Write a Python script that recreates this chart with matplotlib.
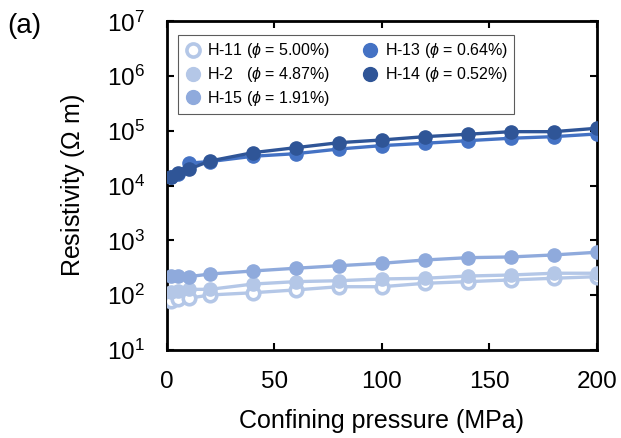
import matplotlib
matplotlib.use("Agg")
import matplotlib.pyplot as plt
from matplotlib.ticker import LogLocator, LogFormatterMathtext, FixedLocator

plt.rcParams['font.family'] = ['Liberation Sans', 'DejaVu Sans']
plt.rcParams['mathtext.fontset'] = 'custom'
plt.rcParams['mathtext.rm'] = 'Liberation Sans'
plt.rcParams['mathtext.it'] = 'Liberation Sans:italic'

pressure = [2, 5, 10, 20, 40, 60, 80, 100, 120, 140, 160, 180, 200]
h11 = [80, 84, 88, 101, 111, 125, 143, 143, 165, 177, 190, 204, 218]
h2 = [116, 120, 128, 128, 160, 177, 184, 198, 204, 224, 234, 252, 252]
h15 = [225, 225, 218, 244, 277, 311, 346, 383, 440, 485, 500, 544, 609]
h13 = [14600, 16500, 25900, 27600, 34500, 38500, 46800, 54000, 59600, 66500, 73600, 78700, 88100]
h14 = [14600, 16900, 19950, 28300, 40200, 49600, 61100, 68500, 78700, 87100, 97100, 97100, 112000]

labels = ["H-11 ($\\phi$ = 5.00%)", "H-2   ($\\phi$ = 4.87%)", "H-15 ($\\phi$ = 1.91%)",
          "H-13 ($\\phi$ = 0.64%)", "H-14 ($\\phi$ = 0.52%)"]
colors = ["#b4c7e7", "#b4c7e7", "#8faadc", "#4472c4", "#2f5597"]

fig = plt.figure(figsize=(6.21, 4.38), dpi=100)
ax = fig.add_axes([0.269, 0.201, 0.692, 0.750])

series = [h11, h2, h15, h13, h14]
for i, (vals, lab, col) in enumerate(zip(series, labels, colors)):
    if i == 0:
        ax.plot(pressure, vals, '-o', color=col, lw=2.4, ms=9, mfc='white',
                mec=col, mew=2.6, label=lab, zorder=3)
    else:
        ax.plot(pressure, vals, '-o', color=col, lw=2.4, ms=9.5, label=lab,
                zorder=3 + i)

ax.set_yscale('log')
ax.set_xlim(0, 200)
ax.set_ylim(10, 1e7)
ax.xaxis.set_major_locator(FixedLocator([0, 50, 100, 150, 200]))
ax.yaxis.set_major_locator(LogLocator(base=10, numticks=10))
ax.yaxis.set_minor_locator(FixedLocator([]))
ax.yaxis.set_major_formatter(LogFormatterMathtext())
ax.tick_params(direction='in', length=5, width=1.5, top=True, right=True,
               labelsize=17.5)
ax.tick_params(axis='x', pad=15)
ax.tick_params(axis='y', pad=16)
for s in ax.spines.values():
    s.set_linewidth(2)

ax.set_xlabel("Confining pressure (MPa)", fontsize=18, labelpad=12)
ax.set_ylabel("Resistivity ($\\Omega$ m)", fontsize=18, labelpad=14)

leg = ax.legend(ncol=2, loc='upper left', bbox_to_anchor=(0.026, 0.959),
                borderaxespad=0,
                fontsize=11.5, frameon=True, fancybox=False, edgecolor='#333333',
                handlelength=1.0, handletextpad=0.4, columnspacing=2.0,
                labelspacing=0.3, borderpad=0.4, markerscale=1.05)
leg.get_frame().set_linewidth(0.8)
for h in leg.legend_handles:
    h.set_linestyle('')

fig.text(0.012, 0.925, "(a)", fontsize=20)

fig.savefig("out.png", dpi=100)
